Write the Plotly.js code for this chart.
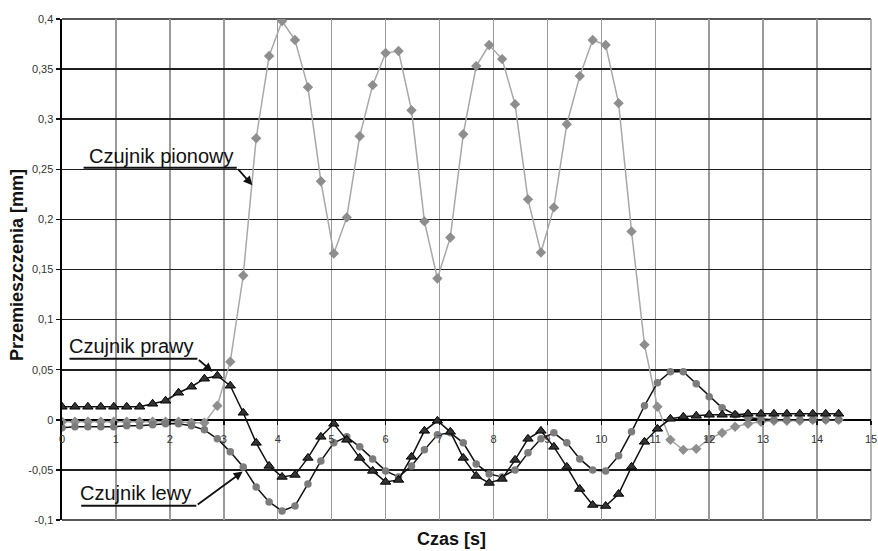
<!DOCTYPE html>
<html>
<head>
<meta charset="utf-8">
<script src="https://cdn.plot.ly/plotly-3.0.1.min.js"></script>
<style>html,body{margin:0;padding:0;background:#fff;}#chart{width:878px;height:551px;}</style>
</head>
<body>
<div id="chart"></div>
<script>
// Time samples [s]
const czas = [0,0.24,0.48,0.72,0.96,1.2,1.44,1.68,1.92,2.16,2.4,2.64,2.88,3.12,3.36,3.6,3.84,4.08,4.32,4.56,4.8,5.04,5.28,5.52,5.76,6,6.24,6.48,6.72,6.96,7.2,7.44,7.68,7.92,8.16,8.4,8.64,8.88,9.12,9.36,9.6,9.84,10.08,10.32,10.56,10.8,11.04,11.28,11.52,11.76,12,12.24,12.48,12.72,12.96,13.2,13.44,13.68,13.92,14.16,14.4];

// Czujnik pionowy [mm]
const pionowy = [-0.002,-0.002,-0.002,-0.002,-0.002,-0.002,-0.002,-0.002,-0.002,-0.002,-0.003,-0.003,0.014,0.058,0.144,0.281,0.363,0.398,0.379,0.332,0.238,0.166,0.202,0.283,0.334,0.366,0.368,0.309,0.198,0.141,0.182,0.285,0.353,0.374,0.360,0.315,0.220,0.167,0.212,0.295,0.343,0.379,0.374,0.316,0.188,0.075,0.013,-0.020,-0.030,-0.029,-0.019,-0.013,-0.007,-0.004,-0.002,-0.001,-0.001,-0.001,0,0,0];

// Czujnik prawy [mm]
const prawy = [0.013,0.013,0.013,0.013,0.013,0.013,0.013,0.016,0.019,0.027,0.033,0.041,0.044,0.034,0.007,-0.023,-0.046,-0.057,-0.055,-0.038,-0.017,-0.004,-0.020,-0.038,-0.051,-0.062,-0.060,-0.037,-0.011,-0.001,-0.012,-0.038,-0.056,-0.063,-0.059,-0.040,-0.019,-0.011,-0.027,-0.047,-0.069,-0.085,-0.086,-0.074,-0.047,-0.022,-0.009,0.001,0.003,0.004,0.005,0.005,0.005,0.006,0.006,0.006,0.006,0.006,0.006,0.006,0.006];

// Czujnik lewy [mm]
const lewy = [-0.008,-0.007,-0.007,-0.007,-0.007,-0.006,-0.006,-0.005,-0.004,-0.004,-0.006,-0.010,-0.019,-0.032,-0.047,-0.067,-0.082,-0.091,-0.086,-0.064,-0.041,-0.023,-0.017,-0.027,-0.039,-0.051,-0.057,-0.046,-0.030,-0.015,-0.013,-0.023,-0.044,-0.054,-0.057,-0.050,-0.033,-0.019,-0.013,-0.023,-0.039,-0.050,-0.051,-0.036,-0.012,0.014,0.037,0.048,0.048,0.036,0.023,0.012,0.005,0.002,0.001,0,0,0,0,0,0];

const yTicks = [-0.1,-0.05,0,0.05,0.1,0.15,0.2,0.25,0.3,0.35,0.4];
const yTickText = ['-0,1','-0,05','0','0,05','0,1','0,15','0,2','0,25','0,3','0,35','0,4'];
const xTicks = [0,1,2,3,4,5,6,7,8,9,10,11,12,13,14,15];
const xTickText = ['0','1','2','3','4','5','6','7','8','9','10','11','12','13','14','15'];

const FONT = 'Liberation Sans, Arial, sans-serif';

const traces = [
  {x: czas, y: pionowy, name: 'Czujnik pionowy', type: 'scatter', mode: 'lines+markers',
   line: {color: '#a8a8a8', width: 1.5},
   marker: {symbol: 'diamond', size: 8, color: '#8e8e8e'}},
  {x: czas, y: lewy, name: 'Czujnik lewy', type: 'scatter', mode: 'lines+markers',
   line: {color: '#111', width: 1.5},
   marker: {symbol: 'circle', size: 7.5, color: '#7c7c7c'}},
  {x: czas, y: prawy, name: 'Czujnik prawy', type: 'scatter', mode: 'lines+markers',
   line: {color: '#111', width: 1.5},
   marker: {symbol: 'triangle-up', size: 9, color: '#333', line: {color: '#000', width: 1}}}
];

function label(text, x, y) {
  return {text: text, x: x, y: y, xref: 'x', yref: 'y', showarrow: false,
          xanchor: 'center', yanchor: 'middle', font: {family: FONT, size: 20, color: '#111'}};
}
function arrow(x0, y0, x1, y1) {
  return {text: '', x: x1, y: y1, ax: x0, ay: y0, xref: 'x', yref: 'y', axref: 'x', ayref: 'y',
          showarrow: true, arrowhead: 2, arrowsize: 1, arrowwidth: 1.8, arrowcolor: '#111', standoff: 0, startstandoff: 0};
}
function underline(x0, x1, y) {
  return {type: 'line', xref: 'x', yref: 'y', x0: x0, x1: x1, y0: y, y1: y, line: {color: '#111', width: 2}};
}
function border(x0, y0, x1, y1, color, width) {
  return {type: 'line', xref: 'paper', yref: 'paper', x0: x0, y0: y0, x1: x1, y1: y1, layer: 'below',
          line: {color: color, width: width}};
}

const layout = {
  width: 878, height: 551,
  margin: {l: 62, r: 7, t: 19, b: 31, pad: 0},
  paper_bgcolor: '#fff', plot_bgcolor: '#fff',
  showlegend: false,
  font: {family: FONT, color: '#222'},
  xaxis: {
    range: [0, 15], tickvals: xTicks, ticktext: xTickText,
    showgrid: true, gridcolor: '#9a9a9a', gridwidth: 1.5,
    zeroline: false, showline: false,
    anchor: 'free', position: 0.2,
    ticks: 'outside', ticklen: 4, tickwidth: 1.5, tickcolor: '#111',
    ticklabelstandoff: 5,
    tickfont: {family: FONT, size: 11, color: '#333'}
  },
  yaxis: {
    range: [-0.1, 0.4], tickvals: yTicks, ticktext: yTickText,
    showgrid: true, gridcolor: '#1e1e1e', gridwidth: 1.6,
    zeroline: true, zerolinecolor: '#000', zerolinewidth: 2.5,
    showline: true, linecolor: '#000', linewidth: 2.5,
    ticks: 'outside', ticklen: 4, tickwidth: 1.5, tickcolor: '#111',
    tickfont: {family: FONT, size: 11, color: '#333'}
  },
  shapes: [
    border(0, 1, 1, 1, '#1e1e1e', 1.6),
    border(0, 0, 1, 0, '#1e1e1e', 1.6),
    border(1, 0, 1, 1, '#9a9a9a', 1.5),
    underline(0.40, 3.24, 0.2516),
    underline(0.14, 2.51, 0.061),
    underline(0.356, 2.49, -0.0857)
  ],
  annotations: [
    label('Czujnik pionowy', 1.84, 0.263),
    label('Czujnik prawy', 1.28, 0.074),
    label('Czujnik lewy', 1.37, -0.073),
    arrow(3.24, 0.2516, 3.53, 0.234),
    arrow(2.51, 0.061, 2.79, 0.048),
    arrow(2.49, -0.0857, 3.35, -0.0517),
    {text: '<b>Przemieszczenia [mm]</b>', xref: 'paper', yref: 'paper', x: -0.0556, y: 0.509,
     xanchor: 'center', yanchor: 'middle', textangle: -90, showarrow: false,
     font: {family: FONT, size: 18, color: '#111'}},
    {text: '<b>Czas [s]</b>', xref: 'paper', yref: 'paper', x: 0.481, y: -0.038,
     xanchor: 'center', yanchor: 'middle', showarrow: false,
     font: {family: FONT, size: 18, color: '#111'}}
  ]
};

Plotly.newPlot('chart', traces, layout, {displayModeBar: false, staticPlot: true});
</script>
</body>
</html>
